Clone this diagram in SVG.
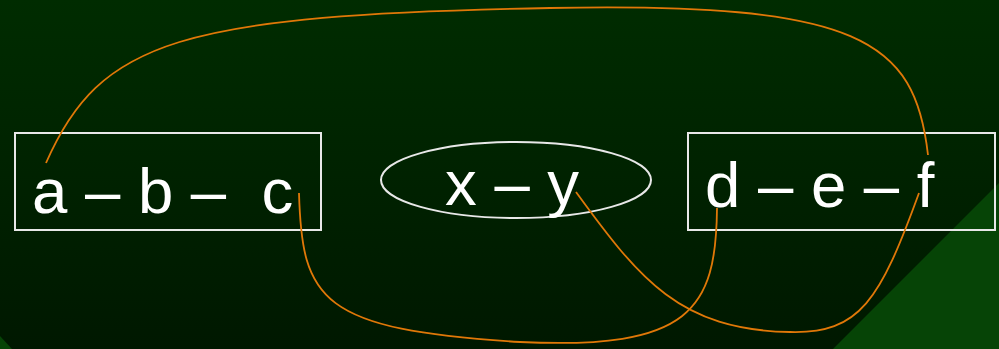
<svg xmlns="http://www.w3.org/2000/svg" width="999" height="349" viewBox="0 0 999 349">
<defs>
<linearGradient id="bg" x1="0" y1="0" x2="0" y2="1">
<stop offset="0" stop-color="#002c00"/>
<stop offset="1" stop-color="#001800"/>
</linearGradient>
<style>
.box{fill:none;stroke:#e8e8e8;stroke-width:2}
.lbl{font-family:"Liberation Sans",Arial,sans-serif;font-size:63.5px;fill:#ffffff;white-space:pre}
.edge{fill:none;stroke:#e07808;stroke-width:1.8}
</style>
</defs>
<rect x="0" y="0" width="999" height="349" fill="url(#bg)"/>
<polygon points="833,349 999,183 999,349" fill="#064406"/>
<polygon points="0,336 0,349 12,349" fill="#064406"/>
<g id="node-abc">
<rect class="box" x="15" y="133" width="306" height="97"/>
<text class="lbl" x="32" y="213">a – b –  c</text>
</g>
<g id="node-xy">
<ellipse class="box" cx="516" cy="180" rx="135" ry="38"/>
<text class="lbl" x="445" y="205">x – y</text>
</g>
<g id="node-def">
<rect class="box" x="688" y="133" width="307" height="97"/>
<text class="lbl" x="705" y="207">d – e – f</text>
</g>
<g id="connectors">
<path class="edge" d="M46,163 C100,40 180,15 550,8 C860,2 915,40 928,155"/>
<path class="edge" d="M299,193 C302,300 320,330 520,342 C690,350 716,310 717,208"/>
<path class="edge" d="M576,192 C640,280 680,330 790,332 C860,334 880,300 919,193"/>
</g>
</svg>
